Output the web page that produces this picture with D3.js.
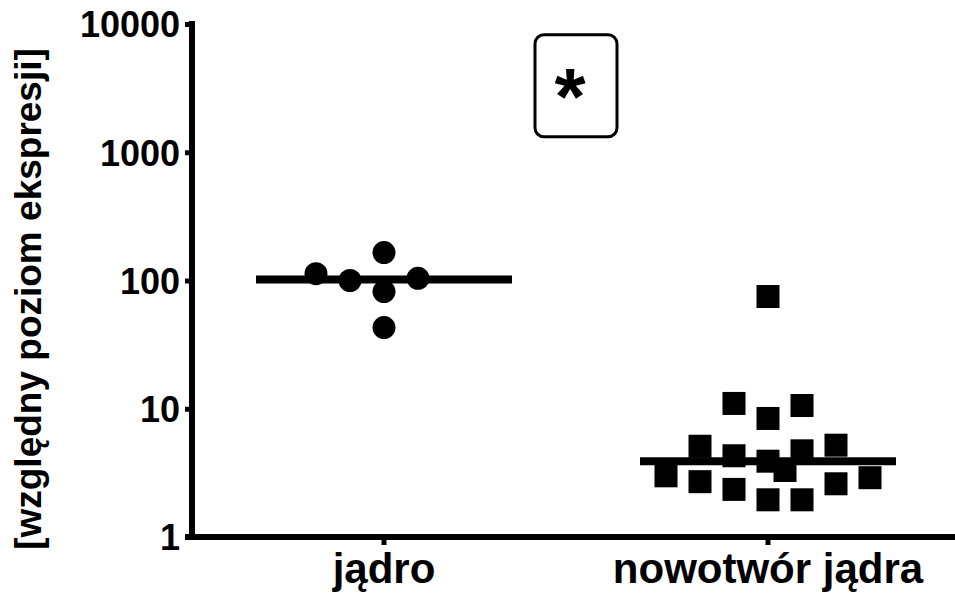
<!DOCTYPE html>
<html>
<head>
<meta charset="utf-8">
<script src="https://cdn.jsdelivr.net/npm/d3@7"></script>
<style>
  body { margin: 0; background: #ffffff; }
  svg text { font-family: "Liberation Sans", Arial, sans-serif; font-weight: bold; fill: #000; }
</style>
</head>
<body>
<svg id="chart" width="955" height="597"></svg>
<script>
// dane
var categories = ["jądro", "nowotwór jądra"];
var jadroValues = [113, 100, 165, 82, 104, 43];
var jadroCols   = [-2, -1, 0, 0, 1, 0];
var nowotworValues = [75, 11, 8.4, 10.6, 5.1, 4.3, 3.9, 4.7, 5.2, 3.0, 3.3, 2.7, 2.35, 2.6, 2.9, 1.95, 1.95];
var nowotworCols   = [0, -1, 0, 1, -2, -1, 0, 1, 2, -3, 0.5, -2, -1, 2, 3, 0, 1];
var yTicks = [1, 10, 100, 1000, 10000];
var yTitle = "[względny poziom ekspresji]";
var signif = "*";

var svg = d3.select("#chart");

var axisX = 192, axisBottom = 537, axisTop = 24;

var x = d3.scaleBand().domain(categories).range([axisX, 960]).paddingInner(0).paddingOuter(0);
var y = d3.scaleLog().domain([1, 10000]).range([axisBottom, axisTop]);
var jitter = d3.scaleLinear().domain([-1, 1]).range([-34, 34]);

// os Y
var gy = svg.append("g")
    .attr("transform", "translate(" + axisX + ",0)")
    .call(d3.axisLeft(y).tickValues(yTicks).tickSize(7).tickSizeOuter(0).tickPadding(5).tickFormat(d3.format("d")));
gy.select(".domain").attr("stroke", "#000").attr("stroke-width", 6)
    .attr("d", "M0," + (axisTop - 3) + "V" + (axisBottom + 3));
gy.selectAll(".tick line").attr("stroke-width", 5);
gy.selectAll(".tick text").style("font-size", "36px").attr("dy", "0.36em");

// os X
var gx = svg.append("g")
    .attr("transform", "translate(0," + axisBottom + ")")
    .call(d3.axisBottom(x).tickSize(8).tickSizeOuter(0).tickPadding(8));
gx.select(".domain").attr("stroke", "#000").attr("stroke-width", 6)
    .attr("d", "M" + (axisX - 7) + ",0H955");
gx.selectAll(".tick line").attr("stroke-width", 5);
gx.selectAll(".tick text").style("font-size", "42px");

// tytul osi Y
svg.append("text")
    .attr("transform", "translate(41,299) rotate(-90)")
    .style("text-anchor", "middle")
    .style("font-size", "37px")
    .text(yTitle);

var groups = [
  { cat: categories[0], values: jadroValues, cols: jadroCols, shape: "circle" },
  { cat: categories[1], values: nowotworValues, cols: nowotworCols, shape: "square" }
];

groups.forEach(function(g){
    var cx = x(g.cat) + x.bandwidth() / 2;
    var pts = g.values.map(function(v, i){ return { v: v, c: g.cols[i] }; });

    // mediana
    var med = d3.median(g.values);
    svg.append("line")
        .attr("x1", cx - 128).attr("x2", cx + 128)
        .attr("y1", y(med)).attr("y2", y(med))
        .attr("stroke", "#000").attr("stroke-width", 8);

    if (g.shape == "circle") {
        svg.selectAll(".pt-c").data(pts).enter().append("circle")
            .attr("cx", function(d){ return cx + jitter(d.c); })
            .attr("cy", function(d){ return y(d.v); })
            .attr("r", 11.5)
            .attr("fill", "#000");
    } else {
        svg.selectAll(".pt-s").data(pts).enter().append("rect")
            .attr("x", function(d){ return cx + jitter(d.c) - 11.5; })
            .attr("y", function(d){ return y(d.v) - 11.5; })
            .attr("width", 23).attr("height", 23)
            .attr("fill", "#000");
    }
});

// gwiazdka istotnosci
var sx = (x(categories[0]) + x(categories[1])) / 2 + x.bandwidth() / 2;
var sy = y(3300);
svg.append("rect")
    .attr("x", sx - 41).attr("y", sy - 51)
    .attr("width", 82).attr("height", 102)
    .attr("rx", 9).attr("ry", 9)
    .attr("fill", "#fff").attr("stroke", "#000").attr("stroke-width", 3);
svg.append("text")
    .attr("x", sx - 6).attr("y", sy + 38)
    .style("text-anchor", "middle")
    .style("font-size", "80px")
    .text(signif);
</script>
</body>
</html>
